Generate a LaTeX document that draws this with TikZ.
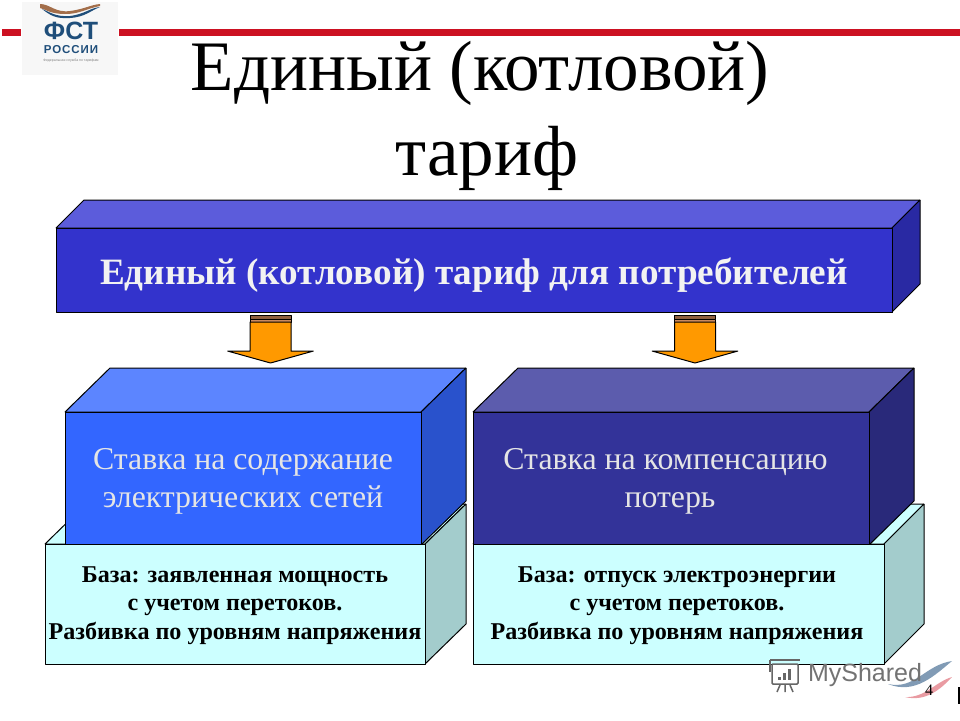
\documentclass[tikz,border=0pt]{standalone}
\usepackage{fontspec}
\setmainfont{Liberation Serif}
\newfontfamily\logofont{Liberation Sans}
\newfontfamily\logowide[LetterSpace=8]{Liberation Sans}
\definecolor{capblue}{HTML}{3333CC}
\definecolor{caplight}{HTML}{5C5CDB}
\definecolor{capdark}{HTML}{2929A3}
\definecolor{netblue}{HTML}{3366FF}
\definecolor{netlight}{HTML}{5C85FF}
\definecolor{netdark}{HTML}{2952CC}
\definecolor{lossblue}{HTML}{333399}
\definecolor{losslight}{HTML}{5C5CAD}
\definecolor{lossdark}{HTML}{29297A}
\definecolor{basecyan}{HTML}{CCFFFF}
\definecolor{basedark}{HTML}{A3CCCC}
\definecolor{arroworange}{HTML}{FF9900}
\definecolor{arrowbrown}{HTML}{CC8A5C}
\definecolor{barred}{HTML}{CC1122}
\definecolor{logoblue}{HTML}{1F4E7A}
\tikzset{
face/.style={draw=black,line join=bevel,line width=1pt},
block/.style={face,inner sep=0pt,anchor=north west,align=center},
big label/.style={text=white!90!black,font=\fontsize{31.8}{38}\selectfont},
base label/.style={text=black,font=\fontsize{24.1}{28.5}\selectfont\bfseries},
pics/downarrow/.style={
code={
\draw[face,fill=arrowbrown!70!black] (-20.5,-36) rectangle (20.5,-32);
\draw[face,fill=arrowbrown] (-20.5,-32) rectangle (20.5,-29);
\draw[face,fill=arroworange] (-20.5,-29) -- (20.5,-29) -- (20.5,0) -- (43,0) -- (0,12) -- (-43,0) -- (-20.5,0) -- cycle;
}},
}

\begin{document}
\begin{tikzpicture}[x=1pt,y=-1pt]
\useasboundingbox (0,0) rectangle (960,720);
% header
\fill[barred] (2,29) rectangle (21,36);
\fill[barred] (119,29) rectangle (960,36);
\fill[black!3] (22,2) rectangle (118,75);
\fill[arrowbrown!80!black] (40,4) .. controls (50,4) and (55,13) .. (70,11) .. controls (85,9) and (90,5) .. (100,4) -- (100,6) .. controls (85,9) and (80,14) .. (65,14) .. controls (50,14) and (45,9) .. (40,8) -- cycle;
\fill[logoblue] (42,9) .. controls (50,12) and (55,17) .. (70,16) .. controls (85,14) and (90,8) .. (100,7) .. controls (90,11) and (85,17) .. (70,18) .. controls (55,19) and (50,15) .. (42,9) -- cycle;
\node[inner sep=0pt,text=logoblue,font=\logofont\bfseries\fontsize{25}{25}\selectfont] (logo) at (71,31) {ФСТ};
\node[inner sep=0pt,text=logoblue,font=\logowide\bfseries\fontsize{11.5}{11.5}\selectfont] (logosub) at (71,50) {РОССИИ};
\node[inner sep=0pt,text=black!50,font=\logofont\fontsize{3.5}{4}\selectfont] (logonote) at (71,61) {Федеральная служба по тарифам};
\node[inner sep=0pt,align=center,font=\fontsize{71}{85}\selectfont] (title) at (480,116) {Единый (котловой)\\\hspace{14pt}тариф};
% lower bases
\draw[face,fill=basecyan] (45,544) -- (86,504) -- (466,504) -- (425,544) -- cycle;
\draw[face,fill=basedark] (425,544) -- (466,504) -- (466,624) -- (425,664) -- cycle;
\draw[face,fill=basecyan] (473,544) -- (514,504) -- (924,504) -- (884,544) -- cycle;
\draw[face,fill=basedark] (884,544) -- (924,504) -- (924,624) -- (884,664) -- cycle;
% top block
\draw[face,fill=caplight] (56,228) -- (84,200) -- (920,200) -- (892,228) -- cycle;
\draw[face,fill=capdark] (892,228) -- (920,200) -- (920,284) -- (892,312) -- cycle;
\node[block,fill=capblue,minimum width=836pt,minimum height=84pt] (tariff) at (56,228) {};
\node[text=white!95!black,font=\fontsize{37.2}{44}\selectfont\bfseries,inner sep=0pt] (tarifftext) at (474,275) {Единый (котловой) тариф для потребителей};
% middle blocks
\draw[face,fill=netlight] (65,412) -- (110,368) -- (466,368) -- (421,412) -- cycle;
\draw[face,fill=netdark] (421,412) -- (466,368) -- (466,501) -- (421,545) -- cycle;
\node[block,fill=netblue,minimum width=356pt,minimum height=133pt] (net) at (65,412) {};
\node[big label,align=center,inner sep=0pt] (nettext) at (243,481) {Ставка на содержание\\электрических сетей};
\draw[face,fill=losslight] (473,412) -- (518,368) -- (914,368) -- (869,412) -- cycle;
\draw[face,fill=lossdark] (869,412) -- (914,368) -- (914,501) -- (869,545) -- cycle;
\node[block,fill=lossblue,minimum width=396pt,minimum height=133pt] (loss) at (473,412) {};
\node[big label,align=center,inner sep=0pt] (losstext) at (665.5,481) {Ставка на компенсацию\\\hspace{9pt}потерь};
% base fronts
\node[block,fill=basecyan,minimum width=380pt,minimum height=120pt] (netbase) at (45,544) {};
\node[base label,inner sep=0pt] (netbasetext) at (235,605) {\begin{tabular}{@{}c@{}}База: заявленная мощность\\с учетом перетоков.\\Разбивка по уровням напряжения\end{tabular}};
\node[block,fill=basecyan,minimum width=411pt,minimum height=120pt] (lossbase) at (473,544) {};
\node[base label,inner sep=0pt] (lossbasetext) at (677,605) {\begin{tabular}{@{}c@{}}База: отпуск электроэнергии\\с учетом перетоков.\\Разбивка по уровням напряжения\end{tabular}};
% arrows
\pic at (270.5,351) {downarrow};
\pic at (695,351) {downarrow};
% watermark
\draw[black!60,line width=1.5pt,rounded corners=1pt] (772,664) rectangle (798,684);
\draw[black!60,line width=1.5pt] (770,660) -- (800,660) (770,660) -- (770,672);
\foreach \i/\h in {0/3,1/7,2/11} {
\fill[black!60] (778+5*\i,680) rectangle (781+5*\i,680-\h);
}
\draw[black!60,line width=1.5pt] (780,685) -- (777,692) (785,685) -- (785,692) (790,685) -- (793,692);
\fill[logoblue!80,opacity=.7] (888,684) .. controls (915,690) and (925,665) .. (952,661) .. controls (935,675) and (915,695) .. (888,684) -- cycle;
\fill[barred!70,opacity=.6] (905,697) .. controls (925,698) and (935,682) .. (952,677) .. controls (940,690) and (925,702) .. (905,697) -- cycle;
\node[inner sep=0pt,text=black!55,font=\logofont\fontsize{25}{25}\selectfont] (share) at (865,675) {MyShared};
\node[inner sep=0pt,font=\fontsize{16}{16}\selectfont] (page) at (929,690) {4};
\fill[black] (958,687) rectangle (960,704);
\end{tikzpicture}
\end{document}
